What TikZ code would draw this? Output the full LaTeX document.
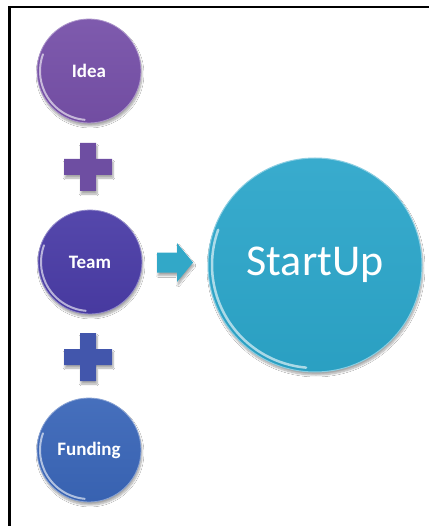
\documentclass[tikz,border=0pt]{standalone}
\usepackage{fontspec}
\setmainfont{Carlito}
\usetikzlibrary{shadows.blur}
\definecolor{ideac}{RGB}{118,80,168}
\definecolor{teamc}{RGB}{74,60,166}
\definecolor{fundc}{RGB}{58,102,184}
\definecolor{startc}{RGB}{44,166,202}
\definecolor{plusa}{RGB}{110,78,162}
\definecolor{plusb}{RGB}{66,86,172}
\definecolor{arrowc}{RGB}{50,168,200}
\begin{document}
\begin{tikzpicture}[x=1pt,y=-1pt,
  shad/.style={blur shadow={shadow xshift=1pt,shadow yshift=-3pt,shadow blur steps=8,shadow opacity=35}},
  ball/.style={circle,inner sep=0pt,minimum size=104pt,text=white,
    font=\bfseries\fontsize{19}{22}\selectfont,shad},
  bigball/.style={circle,inner sep=0pt,minimum size=214pt,text=white,
    font=\fontsize{44}{50}\selectfont,shad},
  rim/.style={white,line width=2pt,opacity=.6,line cap=round},
  plusshape/.style={shad}
]
\useasboundingbox (0,0) rectangle (429,526);
\fill[white] (0,0) rectangle (429,526);
% frame (top and left edges)
\draw[line width=2.5pt,black] (9.5,526) -- (9.5,7) -- (429,7);

% balls
\node[ball,top color=ideac!94!white,bottom color=ideac!96!black,draw=ideac!60!white,line width=.8pt] (idea) at (89,71) {Idea};
\node[ball,top color=teamc!94!white,bottom color=teamc!96!black,draw=teamc!60!white,line width=.8pt] (team) at (90,262) {Team};
\node[ball,top color=fundc!94!white,bottom color=fundc!96!black,draw=fundc!60!white,line width=.8pt] (fund) at (89,450) {Funding};
\node[bigball,top color=startc!94!white,bottom color=startc!96!black,draw=startc!55!white,line width=1pt] (start) at (315,265) {StartUp};

% rim highlights
\foreach \n in {idea,team,fund}{
  \draw[rim] (\n.center) ++(95:49) arc[start angle=95,end angle=200,radius=49];
}
\draw[rim,line width=2.5pt] (start.center) ++(95:103) arc[start angle=95,end angle=200,radius=103];

% plus signs
\coordinate (p1) at (88,167);
\coordinate (p2) at (88,357);
\fill[plusa,plusshape] (p1) ++(-8,-24) -- ++(16,0) -- ++(0,16) -- ++(16,0) -- ++(0,16) -- ++(-16,0)
  -- ++(0,16) -- ++(-16,0) -- ++(0,-16) -- ++(-16,0) -- ++(0,-16) -- ++(16,0) -- cycle;
\fill[plusb,plusshape] (p2) ++(-8,-24) -- ++(16,0) -- ++(0,16) -- ++(16,0) -- ++(0,16) -- ++(-16,0)
  -- ++(0,16) -- ++(-16,0) -- ++(0,-16) -- ++(-16,0) -- ++(0,-16) -- ++(16,0) -- cycle;

% arrow
\coordinate (arr) at (175,262.5);
\fill[arrowc,shad] (arr) ++(-18,-10) -- ++(20,0) -- ++(0,-9.5) -- ++(16,19.5) -- ++(-16,19.5)
  -- ++(0,-9.5) -- ++(-20,0) -- cycle;
\end{tikzpicture}
\end{document}
